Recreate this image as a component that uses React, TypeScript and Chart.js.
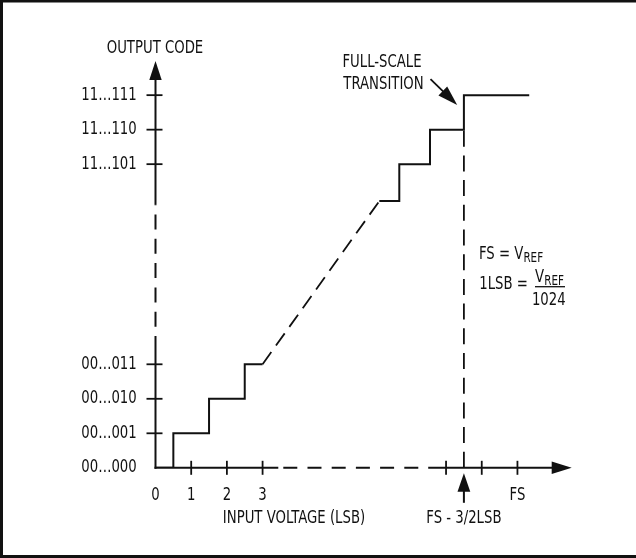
import React, { useEffect, useRef } from 'react';
import { Chart, registerables } from 'chart.js';

Chart.register(...registerables);

// ---- data (input voltage in LSB, output code as drawn level) ----
const FS = 10.14;
const xTickValues = [0, 1, 2, 3, FS - 2, FS - 1, FS];
const xTickLabels = ['0', '1', '2', '3', '', '', 'FS'];
const yTickValues = [0, 1, 2, 3, 8.8, 9.8, 10.8];
const yTickLabels = ['00…000', '00…001', '00…010', '00…011', '11…101', '11…110', '11…111'];

const lowStairX = [0, 0.5, 1.5, 2.5, 3];
const lowStairY = [0, 1, 2, 3, 3];
const rampX = [3, 6.27];
const rampY = [3, 7.73];
const highStairX = [6.27, 6.83, 7.69, FS - 1.5, 10.47];
const highStairY = [7.73, 8.8, 9.8, 10.8, 10.8];
const fsTransX = [FS - 1.5, FS - 1.5];
const fsTransY = [0, 9.8];

const xAxisBreak = [3.44, 7.64];
const yAxisBreak = [3.82, 7.62];
const X_MAX = 11.66;
const Y_MAX = 11.79;

const FONT = "'DejaVu Sans Condensed', 'Liberation Sans Narrow', 'Arial Narrow', Roboto, sans-serif";
const INK = '#111';
const FSIZE = 17.3;
const SUBSIZE = 13.5;
const SX = 0.853; // horizontal squeeze to mimic a condensed face

const pts = (xs: number[], ys: number[]) => xs.map((x, i) => ({ x, y: ys[i] }));

function arrowHead(ctx: CanvasRenderingContext2D, tx: number, ty: number, ang: number, len: number, hw: number) {
  const bx = tx - Math.cos(ang) * len;
  const by = ty - Math.sin(ang) * len;
  const nx = -Math.sin(ang) * hw;
  const ny = Math.cos(ang) * hw;
  ctx.beginPath();
  ctx.moveTo(tx, ty);
  ctx.lineTo(bx + nx, by + ny);
  ctx.lineTo(bx - nx, by - ny);
  ctx.closePath();
  ctx.fill();
}

function drawText(ctx: CanvasRenderingContext2D, s: string, x: number, y: number, align: CanvasTextAlign, size = FSIZE) {
  ctx.save();
  ctx.font = `${size}px ${FONT}`;
  ctx.textAlign = align;
  ctx.textBaseline = 'alphabetic';
  ctx.translate(x, y);
  ctx.scale(SX, 1);
  ctx.fillText(s, 0, 0);
  ctx.restore();
}

function textWidth(ctx: CanvasRenderingContext2D, s: string, size = FSIZE) {
  ctx.save();
  ctx.font = `${size}px ${FONT}`;
  const w = ctx.measureText(s).width * SX;
  ctx.restore();
  return w;
}

const diagramPlugin = {
  id: 'diagram',
  beforeDraw(chart: any) {
    const { ctx, width, height } = chart;
    ctx.save();
    ctx.fillStyle = '#fff';
    ctx.fillRect(0, 0, width, height);
    ctx.fillStyle = INK;
    ctx.fillRect(0, 0, width, 2.5);
    ctx.fillRect(0, 0, 3, height);
    ctx.fillRect(0, height - 3, width, 3);
    ctx.restore();
  },
  beforeDatasetsDraw(chart: any) {
    const { ctx } = chart;
    const xs = chart.scales.x;
    const ys = chart.scales.y;
    const x0 = xs.getPixelForValue(0);
    const y0 = ys.getPixelForValue(0);
    ctx.save();
    ctx.strokeStyle = INK;
    ctx.fillStyle = INK;
    ctx.lineWidth = 2;
    const seg = (ax: number, ay: number, bx: number, by: number, dash: number[], off = 0) => {
      ctx.setLineDash(dash);
      ctx.lineDashOffset = off;
      ctx.beginPath();
      ctx.moveTo(ax, ay);
      ctx.lineTo(bx, by);
      ctx.stroke();
    };
    // y axis (solid / broken / solid + arrow)
    const yTip = ys.getPixelForValue(Y_MAX);
    const yb0 = ys.getPixelForValue(yAxisBreak[0]);
    const yb1 = ys.getPixelForValue(yAxisBreak[1]);
    seg(x0, y0 + 1, x0, yb0, []);
    seg(x0, yb0, x0, yb1, [15, 9.3], 15);
    seg(x0, yb1, x0, yTip + 12, []);
    arrowHead(ctx, x0, yTip, -Math.PI / 2, 19, 6.2);
    // x axis
    const xTip = xs.getPixelForValue(X_MAX);
    const xb0 = xs.getPixelForValue(xAxisBreak[0]);
    const xb1 = xs.getPixelForValue(xAxisBreak[1]);
    seg(x0 - 1, y0, xb0, y0, []);
    seg(xb0, y0, xb1, y0, [14, 10.2], 19.2);
    seg(xb1, y0, xTip - 12, y0, []);
    arrowHead(ctx, xTip, y0, 0, 20, 6.3);
    // tick marks crossing the axes
    ctx.setLineDash([]);
    ctx.lineWidth = 1.8;
    xs.ticks.forEach((t: any) => {
      if (t.value === 0) return;
      const px = xs.getPixelForValue(t.value);
      ctx.beginPath();
      ctx.moveTo(px, y0 - 7);
      ctx.lineTo(px, y0 + 7);
      ctx.stroke();
    });
    ys.ticks.forEach((t: any) => {
      if (t.value === 0) return;
      const py = ys.getPixelForValue(t.value);
      ctx.beginPath();
      ctx.moveTo(x0 - 9, py);
      ctx.lineTo(x0 + 7, py);
      ctx.stroke();
    });
    // up arrow marking FS - 3/2 LSB
    const fx = xs.getPixelForValue(FS - 1.5);
    ctx.lineWidth = 2;
    ctx.beginPath();
    ctx.moveTo(fx, y0 + 20);
    ctx.lineTo(fx, y0 + 35);
    ctx.stroke();
    arrowHead(ctx, fx, y0 + 5.5, -Math.PI / 2, 18.5, 6.4);
    // full-scale transition arrow
    const cx = xs.getPixelForValue(FS - 1.5);
    const cy = ys.getPixelForValue(10.8);
    const tipX = cx - 6.7;
    const tipY = cy + 9.8;
    const tailX = cx - 33.4;
    const tailY = cy - 16;
    const ang = Math.atan2(tipY - tailY, tipX - tailX);
    ctx.lineWidth = 1.8;
    ctx.beginPath();
    ctx.moveTo(tailX, tailY);
    ctx.lineTo(tipX - Math.cos(ang) * 15, tipY - Math.sin(ang) * 15);
    ctx.stroke();
    arrowHead(ctx, tipX, tipY, ang, 20, 6.3);
    ctx.restore();
  },
  afterDraw(chart: any) {
    const { ctx } = chart;
    const xs = chart.scales.x;
    const ys = chart.scales.y;
    const x0 = xs.getPixelForValue(0);
    const y0 = ys.getPixelForValue(0);
    ctx.save();
    ctx.fillStyle = INK;
    // tick labels from the scales' own ticks
    xs.ticks.forEach((t: any, i: number) => {
      const lbl = t.label ?? xTickLabels[i];
      if (!lbl) return;
      drawText(ctx, String(lbl), xs.getPixelForValue(t.value), y0 + 32.2, 'center');
    });
    ys.ticks.forEach((t: any, i: number) => {
      const lbl = t.label ?? yTickLabels[i];
      if (!lbl) return;
      drawText(ctx, String(lbl), x0 - 18.8, ys.getPixelForValue(t.value) + 4.6, 'right');
    });
    // annotations
    drawText(ctx, 'OUTPUT CODE', 106.7, 53, 'left');
    drawText(ctx, 'FULL-SCALE', 382, 66.7, 'center');
    drawText(ctx, 'TRANSITION', 383.5, 89.3, 'center');
    drawText(ctx, 'INPUT VOLTAGE (LSB)', 294, 522.7, 'center');
    drawText(ctx, 'FS - 3/2LSB', xs.getPixelForValue(FS - 1.5), 523, 'center');
    // FS = VREF
    drawText(ctx, 'FS = V', 479, 259.3, 'left');
    const w1 = textWidth(ctx, 'FS = V');
    drawText(ctx, 'REF', 479 + w1, 262.3, 'left', SUBSIZE);
    // 1LSB = VREF / 1024
    drawText(ctx, '1LSB =', 479.3, 289.3, 'left');
    const wv = textWidth(ctx, 'V');
    const wr = textWidth(ctx, 'REF', SUBSIZE);
    const fracC = 549.5;
    const vStart = fracC - (wv + wr) / 2;
    drawText(ctx, 'V', vStart, 281.7, 'left');
    drawText(ctx, 'REF', vStart + wv, 284.5, 'left', SUBSIZE);
    ctx.strokeStyle = INK;
    ctx.lineWidth = 1.3;
    ctx.beginPath();
    ctx.moveTo(535, 286.7);
    ctx.lineTo(565, 286.7);
    ctx.stroke();
    drawText(ctx, '1024', 548.8, 305, 'center');
    ctx.restore();
  },
};

export default function App() {
  const ref = useRef<HTMLCanvasElement | null>(null);
  useEffect(() => {
    if (!ref.current) return;
    const lineStyle = {
      showLine: true,
      borderColor: INK,
      backgroundColor: INK,
      borderWidth: 2,
      pointRadius: 0,
      pointHoverRadius: 0,
      fill: false,
    };
    const chart = new Chart(ref.current, {
      type: 'scatter',
      data: {
        datasets: [
          { ...lineStyle, label: 'codes 0-3', data: pts(lowStairX, lowStairY), stepped: 'before' },
          { ...lineStyle, label: 'ramp', data: pts(rampX, rampY), borderDash: [15, 8], borderWidth: 1.8 },
          { ...lineStyle, label: 'top codes', data: pts(highStairX, highStairY), stepped: 'before' },
          { ...lineStyle, label: 'FS-3/2LSB', data: pts(fsTransX, fsTransY), borderDash: [16, 8.7], borderWidth: 1.8 },
        ] as any,
      },
      options: {
        animation: false,
        responsive: false,
        maintainAspectRatio: false,
        layout: { padding: { top: 61, right: 64.3, bottom: 0, left: 0 } },
        plugins: { legend: { display: false }, tooltip: { enabled: false }, title: { display: false } },
        events: [],
        scales: {
          x: {
            type: 'linear',
            min: 0,
            max: X_MAX,
            grid: { display: false, drawTicks: false },
            border: { display: false },
            afterBuildTicks: (s: any) => {
              s.ticks = xTickValues.map((v) => ({ value: v }));
            },
            afterFit: (s: any) => {
              s.height = 558 - 467.8;
            },
            ticks: {
              display: false,
              autoSkip: false,
              maxRotation: 0,
              minRotation: 0,
              callback: (_v: any, i: number) => xTickLabels[i],
            },
          },
          y: {
            type: 'linear',
            min: 0,
            max: Y_MAX,
            grid: { display: false, drawTicks: false },
            border: { display: false },
            afterBuildTicks: (s: any) => {
              s.ticks = yTickValues.map((v) => ({ value: v }));
            },
            afterFit: (s: any) => {
              s.width = 155.5;
            },
            ticks: {
              display: false,
              autoSkip: false,
              callback: (_v: any, i: number) => yTickLabels[i],
            },
          },
        } as any,
      },
      plugins: [diagramPlugin],
    });
    return () => chart.destroy();
  }, []);
  return (
    <div style={{ position: 'fixed', left: 0, top: 0, width: 636, height: 558, background: '#fff' }}>
      <canvas ref={ref} width={636} height={558} style={{ display: 'block', width: 636, height: 558 }} />
    </div>
  );
}
